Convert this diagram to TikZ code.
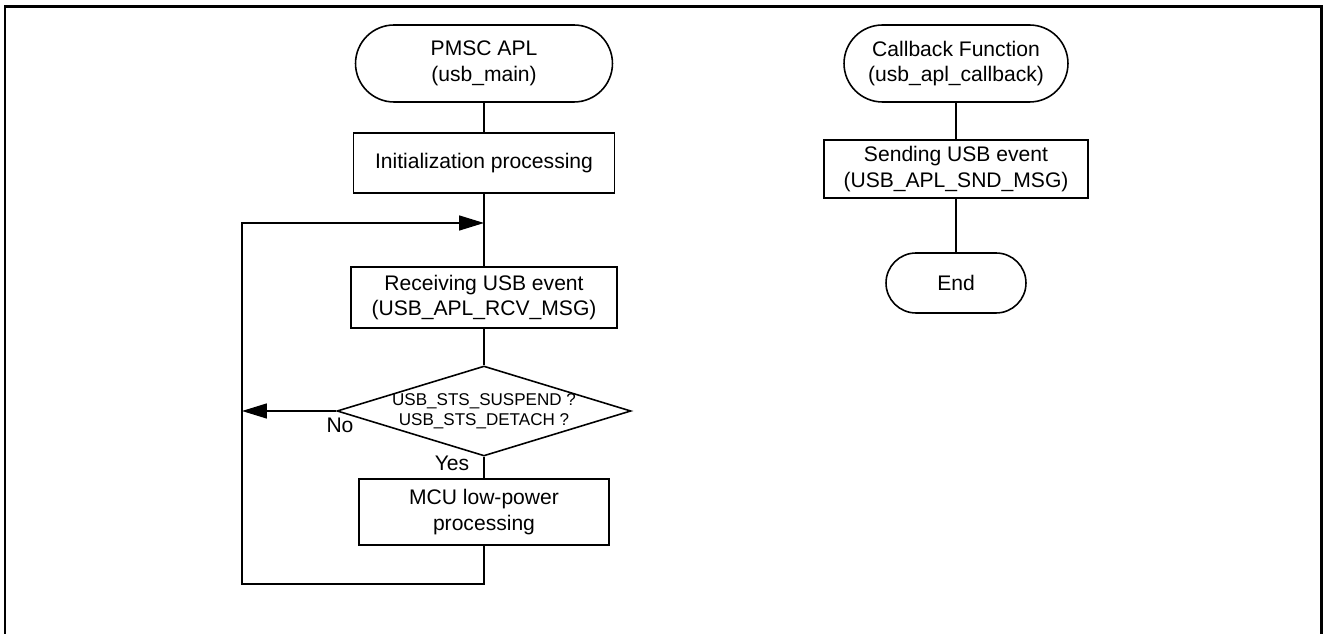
\documentclass[tikz,border=0pt]{standalone}
\usepackage{fontspec}
\setmainfont{Liberation Sans}
\usetikzlibrary{shapes.geometric,arrows.meta}

\begin{document}
\begin{tikzpicture}[x=0.02cm, y=-0.02cm, line width=0.9pt,
  term/.style = {draw, rounded corners=0.77cm, minimum height=1.54cm, align=center, font=\fontsize{12}{14.5}\selectfont},
  proc/.style = {draw, align=center, font=\fontsize{12}{14.5}\selectfont},
  dec/.style = {draw, diamond, inner sep=0pt, minimum width=5.88cm, minimum height=1.8cm},
  lbl/.style = {font=\fontsize{12}{14.5}\selectfont},
  arr/.style = {-{Triangle[length=0.5cm,width=0.3cm]}}]
\useasboundingbox (0,0) rectangle (1323,634);
\draw[line width=1.7pt] (5,650) -- (5,7) -- (1321,7) -- (1321,650);

% main loop
\node[term, minimum width=5.14cm] (1) at (484,63.5) {PMSC APL\\(usb\_main)};
\node[proc, minimum width=5.22cm, minimum height=1.2cm] (2) at (484,163) {Initialization processing};
\node[proc, minimum width=5.32cm, minimum height=1.22cm] (3) at (484,297.5) {Receiving USB event\\(USB\_APL\_RCV\_MSG)};
\node[dec, label={[font=\fontsize{9.7}{11.3}\selectfont, align=center]center:USB\_STS\_SUSPEND ?\\USB\_STS\_DETACH ?}] (4) at (484,411) {};
\node[proc, minimum width=5cm, minimum height=1.32cm] (5) at (484,512) {MCU low-power\\processing};
\coordinate (j) at (484,223);
\coordinate (c1) at (242,584);
\coordinate (c2) at (242,223);
\coordinate (c3) at (242,411);
\draw (1) -- (2);
\draw (2) -- (3);
\draw (3) -- (4);
\draw (4) -- (5);
\draw[arr] (5) |- (c1) -- (c2) -- (j);
\draw[arr] (4.west) -- (c3);
\node[lbl] (no) at (340,425) {No};
\node[lbl] (yes) at (452,463) {Yes};

% callback
\node[term, minimum width=4.48cm] (6) at (956,63.5) {Callback Function\\(usb\_apl\_callback)};
\node[proc, minimum width=5.28cm, minimum height=1.16cm] (7) at (956,169) {Sending USB event\\(USB\_APL\_SND\_MSG)};
\node[term, minimum width=2.8cm, minimum height=1.2cm, rounded corners=0.6cm] (8) at (956,283) {End};
\draw (6) -- (7);
\draw (7) -- (8);
\end{tikzpicture}
\end{document}
